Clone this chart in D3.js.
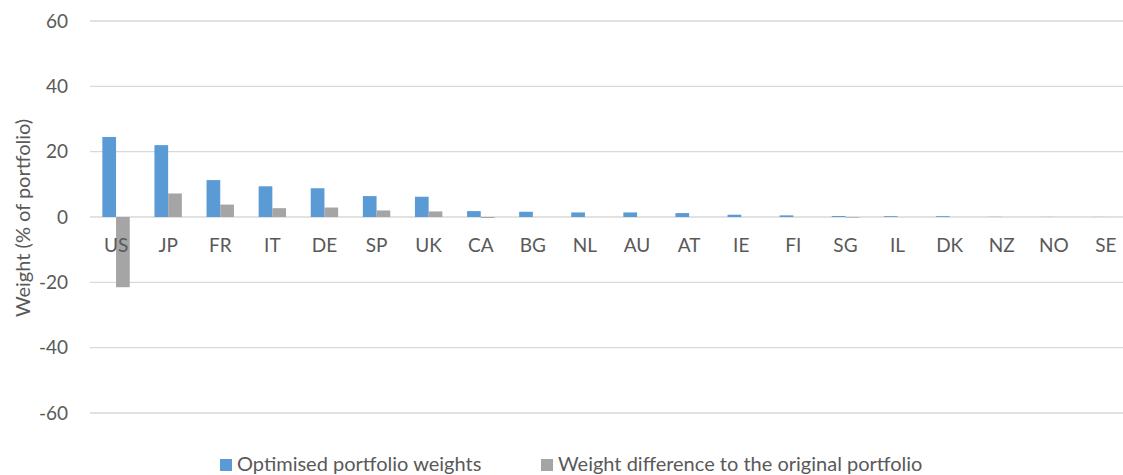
<!DOCTYPE html>
<html>
<head>
<meta charset="utf-8">
<script src="https://cdn.jsdelivr.net/npm/d3@7"></script>
<style>
    body { margin: 0; background: white; }
    svg { display: block; font-family: Lato, "Noto Sans", sans-serif; }
</style>
</head>
<body>
<div id="chart"></div>
<script>
// Countries along the x axis
var COUNTRIES = ["US", "JP", "FR", "IT", "DE", "SP", "UK", "CA", "BG", "NL",
    "AU", "AT", "IE", "FI", "SG", "IL", "DK", "NZ", "NO", "SE"];

// Optimised weights (% of portfolio)
var OPTIMISED = [24.5, 22.0, 11.3, 9.4, 8.8, 6.4, 6.2, 1.8, 1.6, 1.4,
    1.4, 1.2, 0.7, 0.5, 0.3, 0.25, 0.25, 0.05, 0.03, 0.02];

// Difference to the original portfolio
var DIFFERENCE = [-21.5, 7.2, 3.8, 2.7, 2.9, 2.0, 1.7, -0.3, 0, 0,
    0, 0, 0, 0, -0.2, 0, 0, 0, 0, 0];

var Y_TICKS = [-60, -40, -20, 0, 20, 40, 60];

var SERIES = [
    {key: "opt", label: "Optimised portfolio weights", color: "#5B9BD5", values: OPTIMISED},
    {key: "diff", label: "Weight difference to the original portfolio", color: "#A5A5A5", values: DIFFERENCE}
];

var WIDTH = 1123;
var HEIGHT = 475;
var TEXT_COLOR = "#595959";
var TICK_FONT = "19";
var LABEL_FONT = "20";

const renderChart = () => {
    let svg = d3.select("#chart")
        .append("svg")
            .attr("width", WIDTH)
            .attr("height", HEIGHT);

    let xScale = d3.scaleBand()
        .domain(COUNTRIES)
        .range([90, 1132])
        .paddingInner(0.474)
        .paddingOuter(0.237);

    let xInner = d3.scaleBand()
        .domain(SERIES.map((s) => s.key))
        .range([0, xScale.bandwidth()]);

    let yScale = d3.scaleLinear().domain([-60, 60]).range([413, 21]);

    // Gridlines
    svg.append("g")
        .selectAll("line")
        .data(Y_TICKS)
        .join("line")
            .attr("x1", 90)
            .attr("x2", WIDTH)
            .attr("y1", (d) => yScale(d))
            .attr("y2", (d) => yScale(d))
            .attr("stroke", "#D9D9D9")
            .attr("stroke-width", 1.3);

    // Y axis tick labels (plain hyphen minus like the original)
    let yAxis = svg.append("g")
        .attr("transform", "translate(76,0)")
        .call(d3.axisLeft(yScale)
            .tickValues(Y_TICKS)
            .tickFormat((d) => String(d))
            .tickSize(0)
            .tickPadding(8));
    yAxis.select(".domain").remove();
    yAxis.selectAll(".tick text")
        .attr("font-size", TICK_FONT)
        .attr("font-family", "Lato")
        .attr("fill", TEXT_COLOR);

    // Bars
    SERIES.forEach((s) => {
        svg.append("g")
            .selectAll("rect")
            .data(s.values)
            .join("rect")
                .attr("x", (d, i) => xScale(COUNTRIES[i]) + xInner(s.key))
                .attr("y", (d) => yScale(Math.max(0, d)))
                .attr("width", xInner.bandwidth())
                .attr("height", (d) => Math.abs(yScale(d) - yScale(0)))
                .attr("fill", s.color);
    });

    // Category labels just below the zero line
    let xAxis = svg.append("g")
        .attr("transform", "translate(0," + yScale(0) + ")")
        .call(d3.axisBottom(xScale).tickSize(0));
    xAxis.select(".domain").remove();
    xAxis.selectAll(".tick text")
        .attr("y", 35)
        .attr("dy", null)
        .attr("font-size", TICK_FONT)
        .attr("font-family", "Lato")
        .attr("fill", TEXT_COLOR);

    // Y axis title
    svg.append("text")
        .attr("text-anchor", "middle")
        .attr("transform", "translate(30,218) rotate(-90)")
        .attr("font-size", LABEL_FONT)
        .attr("fill", TEXT_COLOR)
        .text("Weight (% of portfolio)");

    // Legend
    let legendX = [220, 541];
    SERIES.forEach((s, i) => {
        let g = svg.append("g").attr("transform", "translate(" + legendX[i] + ",459)");
        g.append("rect")
            .attr("width", 12)
            .attr("height", 12)
            .attr("fill", s.color);
        g.append("text")
            .attr("x", 17)
            .attr("y", 12)
            .attr("font-size", LABEL_FONT)
            .attr("fill", TEXT_COLOR)
            .text(s.label);
    });
}

renderChart();
</script>
</body>
</html>
